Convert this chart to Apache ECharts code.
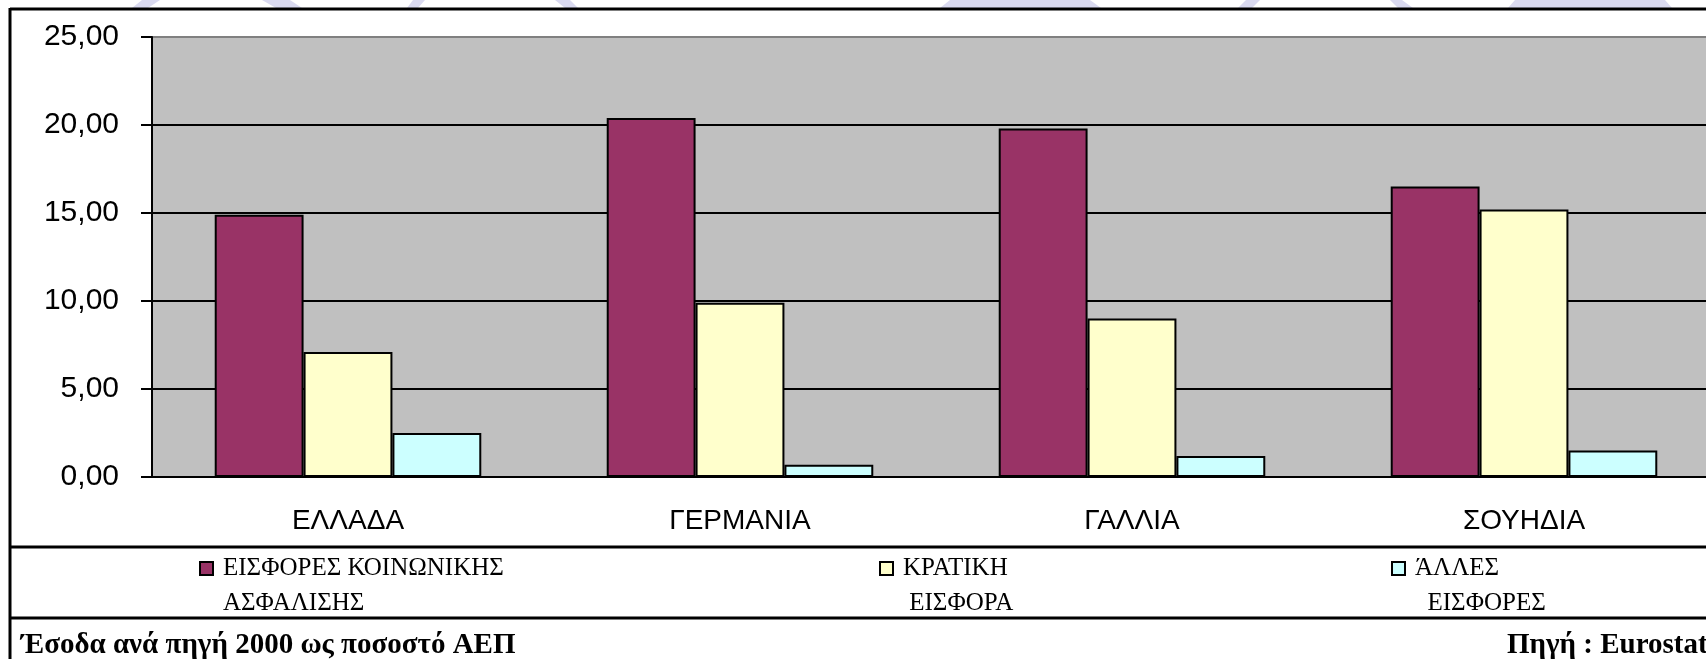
<!DOCTYPE html>
<html>
<head>
<meta charset="utf-8">
<title>Έσοδα ανά πηγή 2000 ως ποσοστό ΑΕΠ</title>
<script src="https://cdn.jsdelivr.net/npm/echarts@6/dist/echarts.min.js"></script>
<style>
html, body { margin: 0; padding: 0; background: #fff; overflow: hidden; }
#chart { width: 1706px; height: 659px; }
</style>
</head>
<body>
<div id="chart"></div>
<script>
// data (% of GDP)
var categories = ['ΕΛΛΑΔΑ', 'ΓΕΡΜΑΝΙΑ', 'ΓΑΛΛΙΑ', 'ΣΟΥΗΔΙΑ'];
var socialInsurance = [14.9, 20.4, 19.8, 16.5];
var stateContribution = [7.1, 9.9, 9.0, 15.2];
var otherContributions = [2.5, 0.7, 1.2, 1.5];

var seriesNames = ['ΕΙΣΦΟΡΕΣ ΚΟΙΝΩΝΙΚΗΣ ΑΣΦΑΛΙΣΗΣ', 'ΚΡΑΤΙΚΗ ΕΙΣΦΟΡΑ', 'ΆΛΛΕΣ ΕΙΣΦΟΡΕΣ'];
var legendLines = [
    ['ΕΙΣΦΟΡΕΣ ΚΟΙΝΩΝΙΚΗΣ', 'ΑΣΦΑΛΙΣΗΣ'],
    ['ΚΡΑΤΙΚΗ', ' ΕΙΣΦΟΡΑ'],
    ['ΆΛΛΕΣ', '  ΕΙΣΦΟΡΕΣ']
];
var seriesColors = ['#993366', '#ffffcc', '#ccffff'];

var yMin = 0;
var yMax = 25;
var yStep = 5;

var chartTitle = 'Έσοδα ανά πηγή 2000 ως ποσοστό ΑΕΠ';
var sourceText = 'Πηγή : Eurostat';

var sansFont = '"Liberation Sans", Arial, sans-serif';
var serifFont = '"Liberation Serif", "Times New Roman", serif';

// one legend per series, placed like the excel table cells
function makeLegend(idx, left)
{
    return {
        data: [seriesNames[idx]],
        left: left,
        top: 516,
        padding: 0,
        orient: 'horizontal',
        selectedMode: false,
        icon: 'rect',
        itemWidth: 13,
        itemHeight: 13,
        itemStyle: { borderColor: '#000', borderWidth: 2 },
        formatter: function () {
            // empty first line keeps the marker level with the first text line
            return '\n' + legendLines[idx][0] + '\n' + legendLines[idx][1];
        },
        textStyle: {
            color: '#000',
            fontFamily: serifFont,
            fontSize: 25,
            lineHeight: 35,
            padding: [0, 0, 0, 5]
        }
    };
}

function makeBar(idx, values)
{
    return {
        name: seriesNames[idx],
        type: 'bar',
        data: values,
        barGap: '0%',
        barCategoryGap: '32%',
        itemStyle: {
            color: seriesColors[idx],
            borderColor: '#000',
            borderWidth: 2
        }
    };
}

function hLine(y)
{
    return {
        type: 'line',
        shape: { x1: 10, y1: y, x2: 1706, y2: y },
        style: { stroke: '#000', lineWidth: 3 },
        z: 10
    };
}

//light watermark pieces peeking over the top border
function mark(points)
{
    return {
        type: 'polygon',
        shape: { points: points },
        style: { fill: '#dadaf0' },
        z: 1
    };
}

function getEchart()
{
    var myChart = echarts.init(document.getElementById('chart'));
    var options =
    {
        backgroundColor: '#fff',
        animation: false,
        grid: {
            left: 152,
            right: -14,
            top: 37,
            bottom: 182,
            show: true,
            backgroundColor: '#c0c0c0',
            borderColor: '#808080',
            borderWidth: 2,
            outerBoundsMode: 'none'
        },
        xAxis: {
            type: 'category',
            data: categories,
            axisLine: { lineStyle: { color: '#000', width: 2 } },
            axisTick: { length: 9, lineStyle: { color: '#000', width: 2 } },
            axisLabel: {
                color: '#000',
                fontFamily: sansFont,
                fontSize: 28,
                margin: 30
            },
            splitLine: { show: false }
        },
        yAxis: {
            type: 'value',
            min: yMin,
            max: yMax,
            interval: yStep,
            axisLine: { show: true, lineStyle: { color: '#000', width: 2 } },
            axisTick: { show: true, length: 11, lineStyle: { color: '#000', width: 2 } },
            axisLabel: {
                color: '#000',
                fontFamily: sansFont,
                fontSize: 30,
                margin: 33,
                formatter: function (v) {
                    return v.toFixed(2).replace('.', ',');
                }
            },
            splitLine: {
                show: true,
                showMaxLine: false,
                lineStyle: { color: '#000', width: 2 }
            }
        },
        legend: [
            makeLegend(0, 199),
            makeLegend(1, 879),
            makeLegend(2, 1391)
        ],
        series: [
            makeBar(0, socialInsurance),
            makeBar(1, stateContribution),
            makeBar(2, otherContributions)
        ],
        graphic: [
            mark([[142, 0], [160, 0], [148, 8], [132, 8]]),
            mark([[262, 0], [290, 0], [302, 8], [276, 8]]),
            mark([[413, 0], [425, 0], [418, 8], [407, 8]]),
            mark([[555, 0], [570, 0], [578, 8], [565, 8]]),
            mark([[950, 0], [1090, 0], [1101, 8], [940, 8]]),
            mark([[1246, 0], [1260, 0], [1252, 8], [1238, 8]]),
            mark([[1390, 0], [1402, 0], [1413, 8], [1398, 8]]),
            mark([[1515, 0], [1665, 0], [1672, 8], [1508, 8]]),
            // table borders
            hLine(9),
            hLine(547),
            hLine(618),
            {
                type: 'line',
                shape: { x1: 10, y1: 8, x2: 10, y2: 659 },
                style: { stroke: '#000', lineWidth: 3 },
                z: 10
            },
            {
                type: 'text',
                x: 21,
                y: 646,
                style: {
                    text: chartTitle,
                    font: 'bold 29px ' + serifFont,
                    fill: '#000',
                    verticalAlign: 'middle'
                },
                z: 10
            },
            {
                type: 'text',
                x: 1507,
                y: 646,
                style: {
                    text: sourceText,
                    font: 'bold 29px ' + serifFont,
                    fill: '#000',
                    verticalAlign: 'middle'
                },
                z: 10
            }
        ]
    };
    myChart.setOption(options, true);
}

window.onload = function ()
{
    getEchart();
};
</script>
</body>
</html>
